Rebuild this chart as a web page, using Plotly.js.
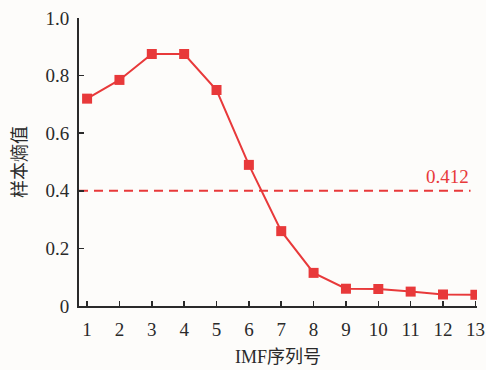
<!DOCTYPE html>
<html>
<head>
<meta charset="utf-8">
<script src="https://cdn.plot.ly/plotly-3.0.1.min.js"></script>
<style>body{margin:0;background:#fdfcfa;}</style>
</head>
<body>
<div id="chart" style="width:486px;height:370px;"></div>
<script>
const imfIndex = [1, 2, 3, 4, 5, 6, 7, 8, 9, 10, 11, 12, 13];
const sampleEntropy = [0.72, 0.785, 0.875, 0.875, 0.75, 0.49, 0.26, 0.115, 0.06, 0.059, 0.05, 0.04, 0.039];
const thresholdLine = 0.4;
const thresholdLabel = "0.412";
const xTickVals = [1, 2, 3, 4, 5, 6, 7, 8, 9, 10, 11, 12, 13];
const yTickVals = [0, 0.2, 0.4, 0.6, 0.8, 1.0];
const yTickText = ["0", "0.2", "0.4", "0.6", "0.8", "1.0"];

const red = "#e8393a";
const axisColor = "#2a2a2a";
const serif = "Times New Roman, Liberation Serif, DejaVu Serif, serif";
const cjk = "Times New Roman, Liberation Serif, Noto Sans CJK SC, serif";

const traces = [
  {
    x: [0.75, 12.85],
    y: [thresholdLine, thresholdLine],
    mode: "lines",
    line: {color: red, width: 2, dash: "9px,6px"},
    hoverinfo: "skip",
    showlegend: false
  },
  {
    x: imfIndex,
    y: sampleEntropy,
    mode: "lines+markers",
    line: {color: red, width: 2},
    marker: {symbol: "square", size: 10, color: red},
    showlegend: false
  }
];

const layout = {
  width: 486,
  height: 370,
  paper_bgcolor: "#fdfcfa",
  plot_bgcolor: "#fdfcfa",
  margin: {l: 79, r: 9, t: 18, b: 64},
  font: {family: serif, size: 19, color: axisColor},
  xaxis: {
    range: [0.75, 13.05],
    tickvals: xTickVals,
    ticks: "inside",
    ticklen: 5,
    tickwidth: 1.5,
    tickcolor: axisColor,
    showline: true,
    linecolor: axisColor,
    linewidth: 2,
    showgrid: false,
    zeroline: false,
    ticklabelstandoff: 5,
    tickfont: {family: serif, size: 19, color: axisColor},
    title: {text: "IMF序列号", font: {family: cjk, size: 18, color: axisColor}, standoff: 12}
  },
  yaxis: {
    range: [0, 1.0],
    tickvals: yTickVals,
    ticktext: yTickText,
    ticks: "inside",
    ticklen: 5,
    tickwidth: 1.5,
    tickcolor: axisColor,
    showline: true,
    linecolor: axisColor,
    linewidth: 2,
    showgrid: false,
    zeroline: false,
    ticklabelstandoff: 4,
    tickfont: {family: serif, size: 19, color: axisColor},
    title: {text: "样本熵值", font: {family: cjk, size: 18, color: axisColor}, standoff: 14}
  },
  annotations: [
    {
      x: 12.85, y: thresholdLine, xref: "x", yref: "y",
      text: thresholdLabel, showarrow: false,
      xanchor: "right", yanchor: "bottom", yshift: 2,
      font: {family: serif, size: 19, color: red}
    }
  ]
};

Plotly.newPlot("chart", traces, layout, {displayModeBar: false, staticPlot: true});
</script>
</body>
</html>
